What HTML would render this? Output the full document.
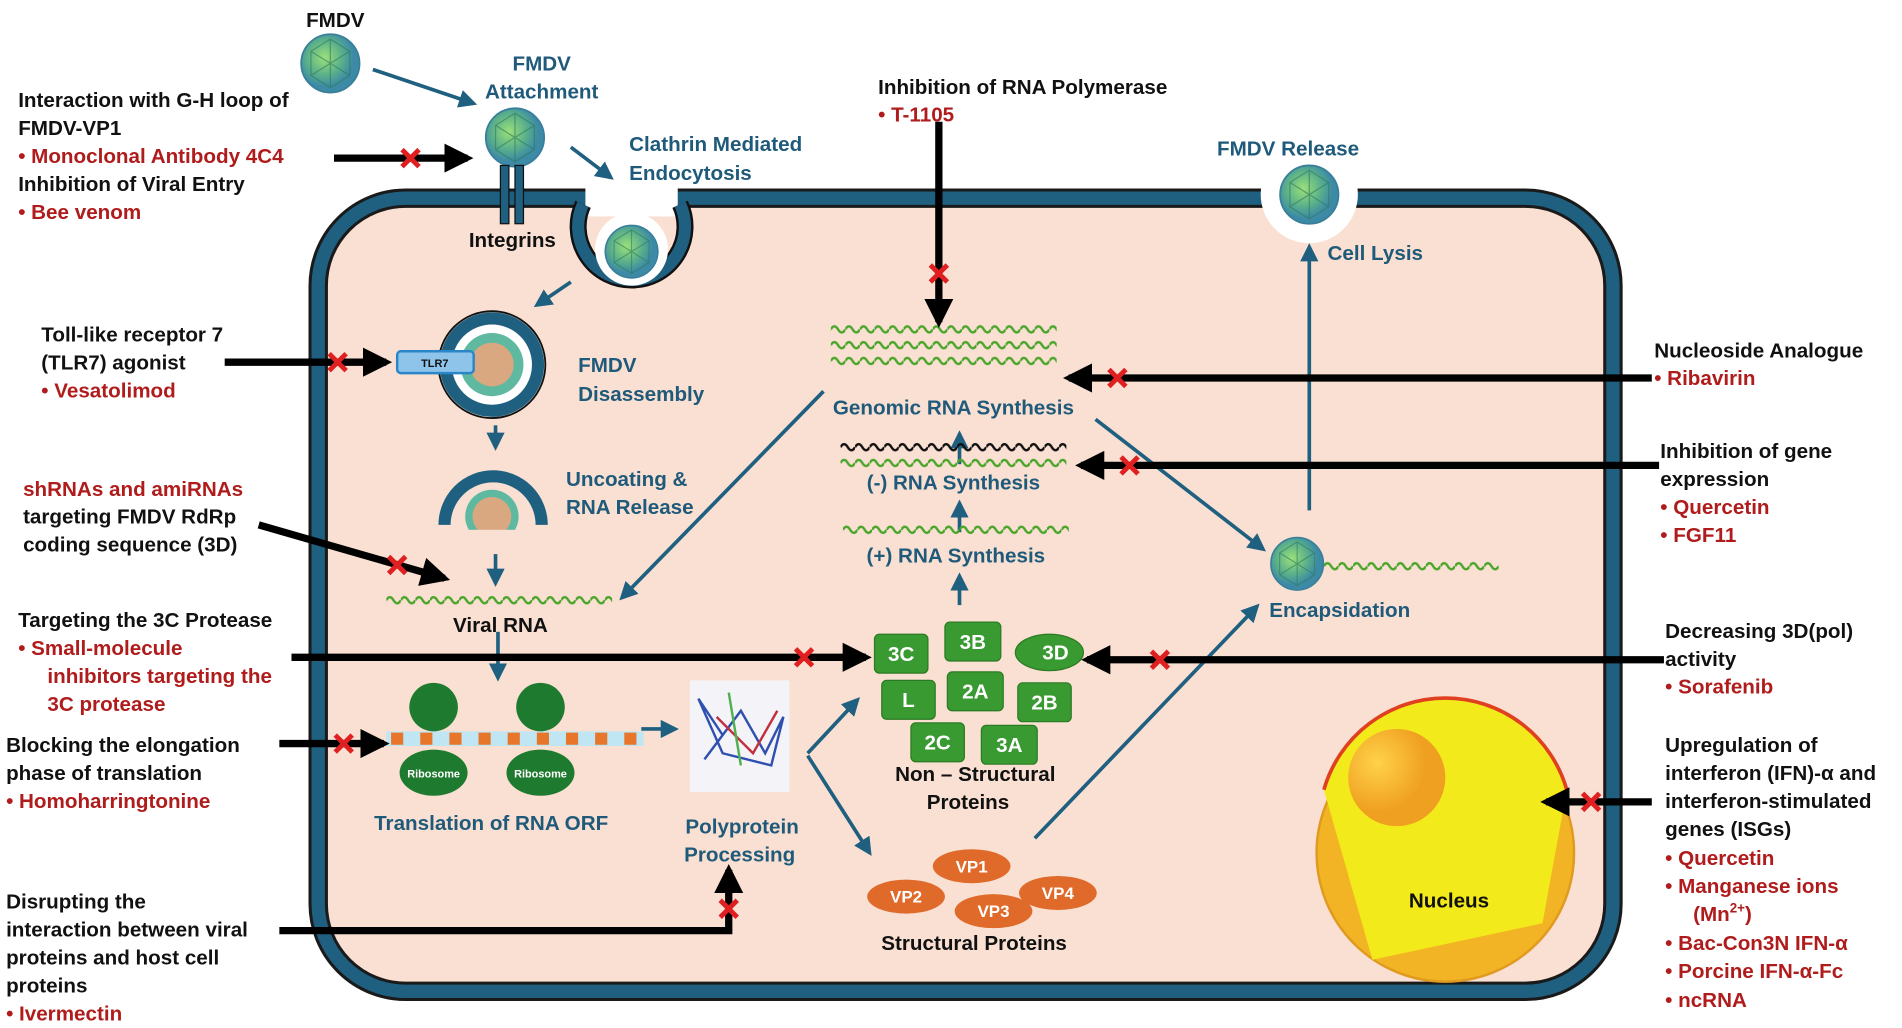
<!DOCTYPE html>
<html><head><meta charset="utf-8"><style>
html,body{margin:0;padding:0;background:#fff;}
svg{display:block;}
text{font-family:"Liberation Sans",sans-serif;font-weight:bold;font-size:17px;}
.k{fill:#111;} .r{fill:#b01c1c;} .b{fill:#1f5a7a;}
</style></head><body>
<svg width="1902" height="1028" viewBox="0 0 1566 846" xmlns="http://www.w3.org/2000/svg">
<defs>
<pattern id="wg" width="12" height="10" patternUnits="userSpaceOnUse"><path d="M0 5 Q3 0 6 5 T12 5" fill="none" stroke="#4aa52a" stroke-width="2"/></pattern>
<pattern id="wk" width="12" height="10" patternUnits="userSpaceOnUse"><path d="M0 5 Q3 0 6 5 T12 5" fill="none" stroke="#111" stroke-width="2"/></pattern>
<marker id="ab" viewBox="0 0 10 10" refX="8" refY="5" markerWidth="5" markerHeight="5" orient="auto"><path d="M0 0L10 5L0 10z" fill="#1f5f7f"/></marker>
<marker id="ak" viewBox="0 0 10 10" refX="8" refY="5" markerWidth="4" markerHeight="4" orient="auto"><path d="M0 0L10 5L0 10z" fill="#000"/></marker>
<radialGradient id="vir" cx="40%" cy="40%"><stop offset="0" stop-color="#9be07a"/><stop offset="0.6" stop-color="#5bb08a"/><stop offset="1" stop-color="#3c8aa6"/></radialGradient>
<radialGradient id="nuc" cx="45%" cy="45%"><stop offset="0" stop-color="#fff36a"/><stop offset="0.7" stop-color="#f2d21e"/><stop offset="1" stop-color="#e8a818"/></radialGradient>
<radialGradient id="nuo" cx="30%" cy="35%"><stop offset="0" stop-color="#ffd24a"/><stop offset="1" stop-color="#f0a020"/></radialGradient>
<g id="v"><circle r="24" fill="url(#vir)" stroke="#3a7f9a" stroke-width="1.5"/><path d="M-16 -10L0 -20L16 -10L16 10L0 20L-16 10z M0 -20L0 20 M-16 -10L16 10 M16 -10L-16 10" fill="none" stroke="#2f7a5a" stroke-width="1" opacity="0.6"/></g>
</defs>

<!-- cell -->
<rect x="262" y="163" width="1066" height="653" rx="72" fill="#f9e0d2" stroke="#1a1a1a" stroke-width="16"/>
<rect x="262" y="163" width="1066" height="653" rx="72" fill="none" stroke="#1f5f7f" stroke-width="11"/>

<!-- FMDV top -->
<text x="252" y="22" class="k">FMDV</text>
<use href="#v" x="272" y="52"/>
<path d="M307 57L390 85" stroke="#1f5f7f" stroke-width="3" marker-end="url(#ab)"/>
<text x="446" y="58" class="b" text-anchor="middle">FMDV</text>
<text x="446" y="81" class="b" text-anchor="middle">Attachment</text>
<use href="#v" x="424" y="113"/>
<rect x="412" y="136" width="7" height="48" fill="#1f5f7f" stroke="#111"/>
<rect x="424" y="136" width="7" height="48" fill="#1f5f7f" stroke="#111"/>
<text x="386" y="203" class="k">Integrins</text>
<path d="M470 121L503 146" stroke="#1f5f7f" stroke-width="3" marker-end="url(#ab)"/>
<text x="518" y="124" class="b">Clathrin Mediated</text>
<text x="518" y="148" class="b">Endocytosis</text>
<!-- pit -->
<rect x="482" y="150" width="76" height="28" fill="#fff"/>
<path d="M480 168 A44 44 0 1 0 560 168" fill="none" stroke="#111" stroke-width="14"/>
<path d="M480 168 A44 44 0 1 0 560 168" fill="none" stroke="#1f5f7f" stroke-width="10"/>
<circle cx="520" cy="205" r="30" fill="#fff"/>
<use href="#v" transform="translate(520 207) scale(0.9)"/>
<path d="M470 232L442 251" stroke="#1f5f7f" stroke-width="3" marker-end="url(#ab)"/>

<!-- release -->
<circle cx="1078" cy="160" r="40" fill="#fff"/>
<use href="#v" x="1078" y="160"/>
<text x="1002" y="128" class="b">FMDV Release</text>
<text x="1093" y="214" class="b">Cell Lysis</text>
<path d="M1078 420L1078 203" stroke="#1f5f7f" stroke-width="3" marker-end="url(#ab)"/>

<!-- endosome 1 -->
<circle cx="405" cy="300" r="38" fill="#fff" stroke="#1f5f7f" stroke-width="10"/>
<circle cx="405" cy="300" r="44" fill="none" stroke="#111" stroke-width="1.5"/>
<circle cx="405" cy="300" r="26" fill="#5fb8a0"/><circle cx="405" cy="300" r="18" fill="#d9a880"/>
<rect x="327" y="289" width="63" height="18" rx="3" fill="#8ec3ea" stroke="#2a86c8" stroke-width="2"/>
<text x="358" y="302" class="k" text-anchor="middle" style="font-size:9px">TLR7</text>
<text x="476" y="306" class="b">FMDV</text>
<text x="476" y="330" class="b">Disassembly</text>
<path d="M408 350L408 368" stroke="#1f5f7f" stroke-width="3" marker-end="url(#ab)"/>
<!-- endosome 2 -->
<path d="M366 432 A40 40 0 0 1 446 432" fill="none" stroke="#1f5f7f" stroke-width="10"/>
<circle cx="405" cy="425" r="22" fill="#5fb8a0"/><circle cx="405" cy="425" r="16" fill="#d9a880"/>
<rect x="360" y="436" width="92" height="12" fill="#f9e0d2"/>
<text x="466" y="400" class="b">Uncoating &amp;</text>
<text x="466" y="423" class="b">RNA Release</text>
<path d="M408 456L408 480" stroke="#1f5f7f" stroke-width="3" marker-end="url(#ab)"/>
<rect transform="translate(318 489)" width="186" height="10" fill="url(#wg)"/>
<text x="373" y="520" class="k">Viral RNA</text>
<path d="M410 520L410 558" stroke="#1f5f7f" stroke-width="3" marker-end="url(#ab)"/>

<!-- ribosomes / mRNA -->
<rect x="318" y="602" width="212" height="12" fill="#bfe6f2"/>
<g fill="#e8762a"><rect x="322" y="603" width="10" height="10"/><rect x="346" y="603" width="10" height="10"/><rect x="370" y="603" width="10" height="10"/><rect x="394" y="603" width="10" height="10"/><rect x="418" y="603" width="10" height="10"/><rect x="442" y="603" width="10" height="10"/><rect x="466" y="603" width="10" height="10"/><rect x="490" y="603" width="10" height="10"/><rect x="514" y="603" width="10" height="10"/></g>
<circle cx="357" cy="582" r="20" fill="#1e7a2e"/><ellipse cx="357" cy="636" rx="28" ry="19" fill="#1e7a2e"/>
<circle cx="445" cy="582" r="20" fill="#1e7a2e"/><ellipse cx="445" cy="636" rx="28" ry="19" fill="#1e7a2e"/>
<text x="357" y="640" fill="#fff" text-anchor="middle" style="font-size:9px">Ribosome</text>
<text x="445" y="640" fill="#fff" text-anchor="middle" style="font-size:9px">Ribosome</text>
<text x="308" y="683" class="b">Translation of RNA ORF</text>
<path d="M528 600L556 600" stroke="#1f5f7f" stroke-width="3" marker-end="url(#ab)"/>
<rect x="568" y="560" width="82" height="92" fill="#f4f4f8"/>
<path d="M575 575l20 30l-15 20l30 -40l20 35l15 -30l-10 40l-40 -10z" fill="none" stroke="#3050b0" stroke-width="2"/>
<path d="M590 590l30 30l20 -35" fill="none" stroke="#c03040" stroke-width="2"/>
<path d="M600 570l10 60" stroke="#50b050" stroke-width="2"/>
<text x="611" y="686" class="b" text-anchor="middle">Polyprotein</text>
<text x="609" y="709" class="b" text-anchor="middle">Processing</text>
<path d="M665 620L706 576" stroke="#1f5f7f" stroke-width="3" marker-end="url(#ab)"/>
<path d="M665 622L716 702" stroke="#1f5f7f" stroke-width="3" marker-end="url(#ab)"/>

<!-- RNA synthesis -->
<rect transform="translate(684 266)" width="186" height="10" fill="url(#wg)"/>
<rect transform="translate(684 279)" width="186" height="10" fill="url(#wg)"/>
<rect transform="translate(684 292)" width="186" height="10" fill="url(#wg)"/>
<text x="785" y="341" class="b" text-anchor="middle">Genomic RNA Synthesis</text>
<path d="M790 382L790 357" stroke="#1f5f7f" stroke-width="3" marker-end="url(#ab)"/>
<rect transform="translate(692 363)" width="186" height="10" fill="url(#wk)"/>
<rect transform="translate(692 376)" width="186" height="10" fill="url(#wg)"/>
<text x="785" y="403" class="b" text-anchor="middle">(-) RNA Synthesis</text>
<path d="M790 438L790 414" stroke="#1f5f7f" stroke-width="3" marker-end="url(#ab)"/>
<rect transform="translate(694 431)" width="186" height="10" fill="url(#wg)"/>
<text x="787" y="463" class="b" text-anchor="middle">(+) RNA Synthesis</text>
<path d="M790 498L790 474" stroke="#1f5f7f" stroke-width="3" marker-end="url(#ab)"/>
<path d="M678 322L512 492" stroke="#1f5f7f" stroke-width="3" marker-end="url(#ab)"/>
<path d="M902 345L1040 452" stroke="#1f5f7f" stroke-width="3" marker-end="url(#ab)"/>

<!-- nonstructural -->
<g fill="#3a9a32" stroke="#2a7a22">
<rect x="720" y="522" width="44" height="32" rx="4"/><rect x="778" y="512" width="46" height="32" rx="4"/>
<rect x="726" y="560" width="44" height="32" rx="4"/><rect x="780" y="553" width="46" height="32" rx="4"/>
<rect x="838" y="562" width="44" height="32" rx="4"/><rect x="750" y="595" width="44" height="32" rx="4"/>
<rect x="808" y="597" width="46" height="32" rx="4"/>
<ellipse cx="864" cy="537" rx="28" ry="15"/>
</g>
<g fill="#fff" text-anchor="middle"><text x="742" y="544">3C</text><text x="801" y="534">3B</text><text x="748" y="582">L</text><text x="803" y="575">2A</text><text x="860" y="584">2B</text><text x="772" y="617">2C</text><text x="831" y="619">3A</text><text x="869" y="543">3D</text></g>
<text x="803" y="643" class="k" text-anchor="middle">Non – Structural</text>
<text x="797" y="666" class="k" text-anchor="middle">Proteins</text>
<!-- structural -->
<g fill="#e06a2a"><ellipse cx="800" cy="713" rx="32" ry="14"/><ellipse cx="746" cy="738" rx="32" ry="14"/><ellipse cx="818" cy="750" rx="32" ry="14"/><ellipse cx="871" cy="735" rx="32" ry="14"/></g>
<g fill="#fff" text-anchor="middle"><text x="800" y="718" style="font-size:14px">VP1</text><text x="746" y="743" style="font-size:14px">VP2</text><text x="818" y="755" style="font-size:14px">VP3</text><text x="871" y="740" style="font-size:14px">VP4</text></g>
<text x="802" y="782" class="k" text-anchor="middle">Structural Proteins</text>
<path d="M852 690L1035 499" stroke="#1f5f7f" stroke-width="3" marker-end="url(#ab)"/>
<!-- encapsidation -->
<use href="#v" transform="translate(1068 464) scale(0.9)"/>
<rect transform="translate(1090 461)" width="144" height="10" fill="url(#wg)"/>
<text x="1045" y="508" class="b">Encapsidation</text>

<!-- nucleus -->
<circle cx="1190" cy="702" r="106" fill="#f2b424" stroke="#e09a20" stroke-width="2"/>
<path d="M1090 650 A104 104 0 0 1 1290 650 L1270 760 L1130 790 Z" fill="#f2ea1a"/>
<path d="M1090 650 A104 104 0 0 1 1290 650" fill="none" stroke="#e04020" stroke-width="3"/>
<circle cx="1150" cy="640" r="40" fill="url(#nuo)"/>
<text x="1160" y="747" class="k">Nucleus</text>

<!-- black inhibition arrows -->
<g stroke="#000" stroke-width="6" fill="none" marker-end="url(#ak)">
<path d="M275 130L385 130"/>
<path d="M185 298L318 298"/>
<path d="M213 432L366 476"/>
<path d="M240 541L713 541"/>
<path d="M1370 543L895 543"/>
<path d="M1360 311L880 311"/>
<path d="M1366 383L890 383"/>
<path d="M773 100L773 265"/>
<path d="M230 612L316 612"/>
<path d="M1360 660L1273 660"/>
<path d="M230 766L600 766L600 716"/>
</g>
<g stroke="#e02020" stroke-width="4">
<path d="M331 123l14 14M345 123l-14 14"/>
<path d="M271 291l14 14M285 291l-14 14"/>
<path d="M320 458l14 14M334 458l-14 14"/>
<path d="M655 534l14 14M669 534l-14 14"/>
<path d="M948 536l14 14M962 536l-14 14"/>
<path d="M913 304l14 14M927 304l-14 14"/>
<path d="M923 376l14 14M937 376l-14 14"/>
<path d="M766 218l14 14M780 218l-14 14"/>
<path d="M276 605l14 14M290 605l-14 14"/>
<path d="M1303 653l14 14M1317 653l-14 14"/>
<path d="M593 741l14 14M607 741l-14 14"/>
</g>

<!-- left labels -->
<text x="15" y="88" class="k">Interaction with G-H loop of</text>
<text x="15" y="111" class="k">FMDV-VP1</text>
<text x="15" y="134" class="r">•  Monoclonal Antibody 4C4</text>
<text x="15" y="157" class="k">Inhibition of Viral Entry</text>
<text x="15" y="180" class="r">•  Bee venom</text>
<text x="34" y="281" class="k">Toll-like receptor 7</text>
<text x="34" y="304" class="k">(TLR7) agonist</text>
<text x="34" y="327" class="r">•  Vesatolimod</text>
<text x="19" y="408" class="r">shRNAs and amiRNAs</text>
<text x="19" y="431" class="k">targeting FMDV RdRp</text>
<text x="19" y="454" class="k">coding sequence (3D)</text>
<text x="15" y="516" class="k">Targeting the 3C Protease</text>
<text x="15" y="539" class="r">•  Small-molecule</text>
<text x="39" y="562" class="r">inhibitors targeting the</text>
<text x="39" y="585" class="r">3C protease</text>
<text x="5" y="619" class="k">Blocking the elongation</text>
<text x="5" y="642" class="k">phase of translation</text>
<text x="5" y="665" class="r">•  Homoharringtonine</text>
<text x="5" y="748" class="k">Disrupting the</text>
<text x="5" y="771" class="k">interaction between viral</text>
<text x="5" y="794" class="k">proteins and host cell</text>
<text x="5" y="817" class="k">proteins</text>
<text x="5" y="840" class="r">•  Ivermectin</text>
<!-- top center -->
<text x="723" y="77" class="k">Inhibition of RNA Polymerase</text>
<text x="723" y="100" class="r">•  T-1105</text>
<!-- right labels -->
<text x="1362" y="294" class="k">Nucleoside Analogue</text>
<text x="1362" y="317" class="r">•  Ribavirin</text>
<text x="1367" y="377" class="k">Inhibition of gene</text>
<text x="1367" y="400" class="k">expression</text>
<text x="1367" y="423" class="r">•  Quercetin</text>
<text x="1367" y="446" class="r">•  FGF11</text>
<text x="1371" y="525" class="k">Decreasing 3D(pol)</text>
<text x="1371" y="548" class="k">activity</text>
<text x="1371" y="571" class="r">•  Sorafenib</text>
<text x="1371" y="619" class="k">Upregulation of</text>
<text x="1371" y="642" class="k">interferon (IFN)-α and</text>
<text x="1371" y="665" class="k">interferon-stimulated</text>
<text x="1371" y="688" class="k">genes (ISGs)</text>
<text x="1371" y="712" class="r">•  Quercetin</text>
<text x="1371" y="735" class="r">•  Manganese ions</text>
<text x="1394" y="758" class="r">(Mn<tspan dy="-7" style="font-size:11px">2+</tspan><tspan dy="7">)</tspan></text>
<text x="1371" y="782" class="r">•  Bac-Con3N IFN-α</text>
<text x="1371" y="805" class="r">•  Porcine IFN-α-Fc</text>
<text x="1371" y="829" class="r">•  ncRNA</text>
</svg>
</body></html>
